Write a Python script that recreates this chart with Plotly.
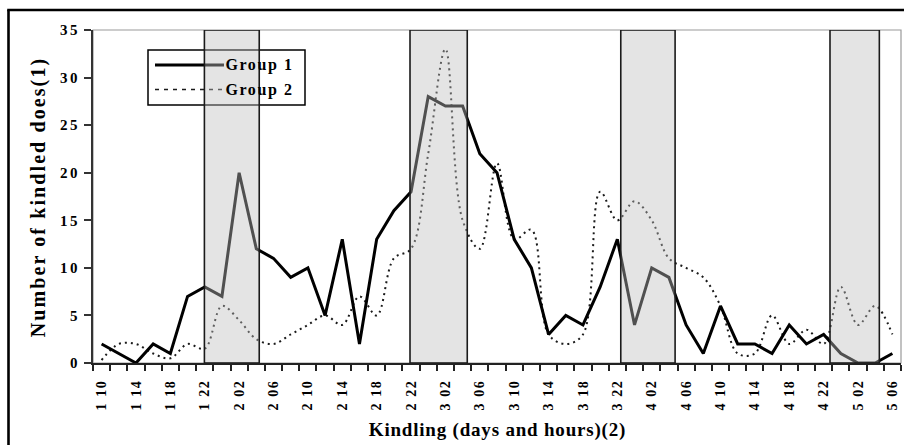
import plotly.graph_objects as go

# ---- data ----
times = ["1 10", "1 12", "1 14", "1 16", "1 18", "1 20", "1 22",
         "2 00", "2 02", "2 04", "2 06", "2 08", "2 10", "2 12", "2 14", "2 16", "2 18", "2 20", "2 22",
         "3 00", "3 02", "3 04", "3 06", "3 08", "3 10", "3 12", "3 14", "3 16", "3 18", "3 20", "3 22",
         "4 00", "4 02", "4 04", "4 06", "4 08", "4 10", "4 12", "4 14", "4 16", "4 18", "4 20", "4 22",
         "5 00", "5 02", "5 04", "5 06"]

group1 = [2, 1, 0, 2, 1, 7, 8, 7, 20, 12, 11, 9, 10, 5, 13, 2, 13, 16, 18, 28,
          27, 27, 22, 20, 13, 10, 3, 5, 4, 8, 13, 4, 10, 9, 4, 1, 6, 2, 2, 1,
          4, 2, 3, 1, 0, 0, 1]

group2 = [0.3, 2, 2, 1, 0.5, 2, 1.5, 6, 4.5, 2.5, 2, 3, 4, 5, 4, 7, 5, 11, 12, 22,
          33, 15, 12, 21, 13, 14, 3, 2, 3, 18, 15, 17, 15, 11, 10, 9, 6, 1, 1, 5,
          2, 3.5, 2, 8, 4, 6, 3]

# shaded periods (in category-index units)
night_spans = [(5.98, 9.17), (17.94, 21.27), (30.20, 33.36), (42.37, 45.24)]

y_ticks = [0, 5, 10, 15, 20, 25, 30, 35]
series_names = ["Group 1", "Group 2"]
x_title = "Kindling (days and hours)(2)"
y_title = "Number of kindled does(1)"

# ---- figure ----
W, H = 904, 445
L, R, T, B = 93, 3, 30, 82
pw, ph = W - L - R, H - T - B

def px_x(p):
    return (p - L) / pw

def px_y(p):
    return (H - B - p) / ph

idx = list(range(len(times)))
FONT = "Liberation Serif, Times New Roman, serif"

fig = go.Figure()
fig.add_trace(go.Scatter(
    x=idx, y=group2, mode="lines", name=series_names[1], showlegend=False,
    line=dict(color="#1a1a1a", width=2, dash="2px,4px", shape="spline", smoothing=1.0),
    hoverinfo="skip"))
fig.add_trace(go.Scatter(
    x=idx, y=group1, mode="lines", name=series_names[0], showlegend=False,
    line=dict(color="black", width=3), hoverinfo="skip"))

shapes = []
# plot-area frame (top/right lighter)
shapes.append(dict(type="rect", xref="paper", yref="paper", x0=0, x1=1, y0=0, y1=1,
                   line=dict(color="#9a9a9a", width=1.2), fillcolor="rgba(0,0,0,0)", layer="below"))
# custom legend box and samples
lx0, lx1, ly0, ly1 = px_x(148), px_x(305), px_y(105), px_y(50)
shapes.append(dict(type="rect", xref="paper", yref="paper", x0=lx0, x1=lx1, y0=ly0, y1=ly1,
                   line=dict(color="black", width=1.5), fillcolor="white", layer="below"))
shapes.append(dict(type="line", xref="paper", yref="paper", x0=px_x(155), x1=px_x(224),
                   y0=px_y(65), y1=px_y(65), line=dict(color="black", width=3), layer="below"))
shapes.append(dict(type="line", xref="paper", yref="paper", x0=px_x(155), x1=px_x(224),
                   y0=px_y(89.5), y1=px_y(89.5), line=dict(color="#1a1a1a", width=1.5, dash="4px,5px"),
                   layer="below"))
# shaded periods, semi-transparent over the lines
for a, b in night_spans:
    shapes.append(dict(type="rect", xref="x", yref="y", x0=a, x1=b, y0=0, y1=35,
                       line=dict(color="#1a1a1a", width=1.6),
                       fillcolor="rgba(190,190,190,0.42)", layer="above"))
# outer black frame (left and top)
shapes.append(dict(type="line", xref="paper", yref="paper", x0=px_x(8.5), x1=px_x(8.5),
                   y0=px_y(10), y1=px_y(450), line=dict(color="black", width=2.6)))
shapes.append(dict(type="line", xref="paper", yref="paper", x0=px_x(7.2), x1=px_x(910),
                   y0=px_y(10), y1=px_y(10), line=dict(color="black", width=2.6)))

annotations = [
    dict(text=series_names[0], xref="paper", yref="paper", x=px_x(229), y=px_y(65), xanchor="left",
         yanchor="middle", showarrow=False, font=dict(family=FONT, size=16, color="black", weight="bold")),
    dict(text=series_names[1], xref="paper", yref="paper", x=px_x(229), y=px_y(89.5), xanchor="left",
         yanchor="middle", showarrow=False, font=dict(family=FONT, size=16, color="black", weight="bold")),
    dict(text=x_title, xref="paper", yref="paper", x=px_x(497), y=px_y(430),
         xanchor="center", yanchor="middle", showarrow=False,
         font=dict(family=FONT, size=19, color="black", weight="bold")),
    dict(text=y_title, xref="paper", yref="paper", x=px_x(38), y=px_y(197),
         xanchor="center", yanchor="middle", textangle=-90, showarrow=False,
         font=dict(family=FONT, size=20, color="black", weight="bold")),
]

fig.update_layout(
    width=W, height=H,
    margin=dict(l=L, r=R, t=T, b=B, autoexpand=False),
    paper_bgcolor="white", plot_bgcolor="white",
    shapes=shapes, annotations=annotations, showlegend=False,
    xaxis=dict(
        range=[-0.5, len(times) - 0.5], showgrid=False, zeroline=False,
        tickmode="array", tickvals=idx[::2], ticktext=times[::2], tickangle=-90,
        ticks="", ticklabelstandoff=9,
        tickfont=dict(family=FONT, size=14, color="black", weight="bold"),
        showline=True, linecolor="#222", linewidth=2,
        minor=dict(ticks="outside", tickmode="array", tickvals=[i - 0.5 for i in range(len(times) + 1)],
                   ticklen=6, tickwidth=1.5, tickcolor="#222", showgrid=False),
    ),
    yaxis=dict(
        range=[0, 35], tickmode="array", tickvals=y_ticks, showgrid=False, zeroline=False,
        ticks="outside", ticklen=7, tickwidth=1.5, tickcolor="#333", ticklabelstandoff=1,
        tickfont=dict(family=FONT, size=15, color="black", weight="bold"),
        showline=True, linecolor="#333", linewidth=2,
    ),
)

# remove the page's default body margin and widen the letter spacing of the printed-style texts
post = """
document.body.style.margin = '0';
document.body.style.overflow = 'hidden';
var gd = document.querySelectorAll('.plotly-graph-div')[0];
function sp(sel, v) { gd.querySelectorAll(sel).forEach(function (t) { t.style.letterSpacing = v; }); }
sp('.xtick text', '1.6px');
sp('.ytick text', '2.5px');
gd.querySelectorAll('.annotation-text').forEach(function (t) {
  var s = t.textContent;
  if (s.indexOf('Number') === 0) { t.style.letterSpacing = '2.1px'; }
  else if (s.indexOf('Kindling') === 0) { t.style.letterSpacing = '0.8px'; }
  else { t.style.letterSpacing = '1.6px'; }
});
"""

fig.write_html("out.html", post_script=post, config={"displayModeBar": False})
